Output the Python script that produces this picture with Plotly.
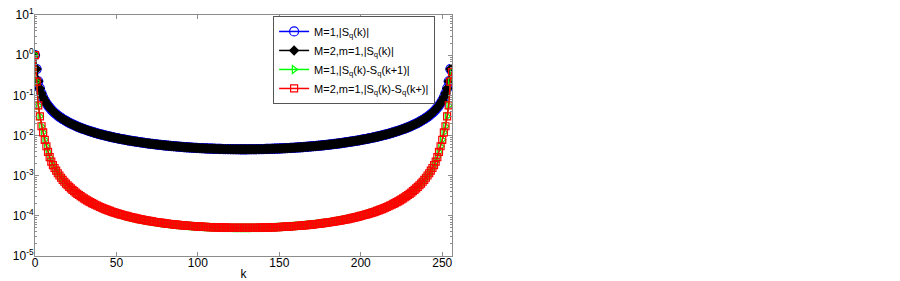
import plotly.graph_objects as go

# k index (0..256)
k_values = list(range(0, 257))

# |S_q(k)| for M=1 (blue)
abs_sq_m1 = [
    1.0, 0.45, 0.224, 0.149, 0.112, 0.0892, 0.0742, 0.0635, 0.0555, 0.0492,
    0.0442, 0.0401, 0.0367, 0.0338, 0.0314, 0.0292, 0.0274, 0.0257, 0.0243, 0.0230,
    0.0218, 0.0207, 0.0197, 0.0189, 0.0181, 0.0173, 0.0166, 0.0160, 0.0154, 0.0149,
    0.0144, 0.0139, 0.0135, 0.0130, 0.0127, 0.0123, 0.0119, 0.0116, 0.0113, 0.0110,
    0.0107, 0.0105, 0.0102, 0.0100, 0.00976, 0.00955, 0.00934, 0.00915, 0.00896, 0.00878,
    0.00861, 0.00845, 0.00829, 0.00814, 0.00800, 0.00786, 0.00772, 0.00760, 0.00747, 0.00735,
    0.00724, 0.00713, 0.00703, 0.00692, 0.00683, 0.00673, 0.00664, 0.00655, 0.00647, 0.00639,
    0.00631, 0.00623, 0.00616, 0.00609, 0.00602, 0.00595, 0.00589, 0.00583, 0.00577, 0.00571,
    0.00566, 0.00560, 0.00555, 0.00550, 0.00545, 0.00541, 0.00536, 0.00532, 0.00527, 0.00523,
    0.00520, 0.00516, 0.00512, 0.00509, 0.00505, 0.00502, 0.00499, 0.00496, 0.00493, 0.00490,
    0.00488, 0.00485, 0.00483, 0.00481, 0.00478, 0.00476, 0.00474, 0.00472, 0.00471, 0.00469,
    0.00467, 0.00466, 0.00464, 0.00463, 0.00462, 0.00461, 0.00459, 0.00458, 0.00458, 0.00457,
    0.00456, 0.00455, 0.00455, 0.00454, 0.00454, 0.00454, 0.00453, 0.00453, 0.00453,
    0.00453, 0.00453, 0.00454, 0.00454, 0.00454, 0.00455, 0.00455, 0.00456, 0.00457, 0.00458,
    0.00458, 0.00459, 0.00461, 0.00462, 0.00463, 0.00464, 0.00466, 0.00467, 0.00469, 0.00471,
    0.00472, 0.00474, 0.00476, 0.00478, 0.00481, 0.00483, 0.00485, 0.00488, 0.00490, 0.00493,
    0.00496, 0.00499, 0.00502, 0.00505, 0.00509, 0.00512, 0.00516, 0.00520, 0.00523, 0.00527,
    0.00532, 0.00536, 0.00541, 0.00545, 0.00550, 0.00555, 0.00560, 0.00566, 0.00571, 0.00577,
    0.00583, 0.00589, 0.00595, 0.00602, 0.00609, 0.00616, 0.00623, 0.00631, 0.00639, 0.00647,
    0.00655, 0.00664, 0.00673, 0.00683, 0.00692, 0.00703, 0.00713, 0.00724, 0.00735, 0.00747,
    0.00760, 0.00772, 0.00786, 0.00800, 0.00814, 0.00829, 0.00845, 0.00861, 0.00878, 0.00896,
    0.00915, 0.00934, 0.00955, 0.00976, 0.0100, 0.0102, 0.0105, 0.0107, 0.0110, 0.0113,
    0.0116, 0.0119, 0.0123, 0.0127, 0.0130, 0.0135, 0.0139, 0.0144, 0.0149, 0.0154,
    0.0160, 0.0166, 0.0173, 0.0181, 0.0189, 0.0197, 0.0207, 0.0218, 0.0230, 0.0243,
    0.0257, 0.0274, 0.0292, 0.0314, 0.0338, 0.0367, 0.0401, 0.0442, 0.0492, 0.0555,
    0.0635, 0.0742, 0.0892, 0.112, 0.149, 0.224, 0.45,
    0.40,
]

# |S_q(k)| for M=2, m=1 (black) -- overlaps the blue series in the picture
abs_sq_m2 = list(abs_sq_m1)

# |S_q(k)-S_q(k+1)| for M=1 (green)
diff_sq_m1 = [
    1.0, 0.22, 0.056, 0.030, 0.017, 0.012, 7.8e-3, 5.4e-3, 3.9e-3, 2.9e-3,
    2.23e-3, 1.84e-3, 1.55e-3, 1.33e-3, 1.15e-3, 1.01e-3, 8.87e-4, 7.89e-4, 7.06e-4, 6.37e-4,
    5.78e-4, 5.27e-4, 4.82e-4, 4.44e-4, 4.10e-4, 3.80e-4, 3.53e-4, 3.30e-4, 3.09e-4, 2.90e-4,
    2.73e-4, 2.57e-4, 2.43e-4, 2.30e-4, 2.19e-4, 2.08e-4, 1.98e-4, 1.89e-4, 1.81e-4, 1.73e-4,
    1.66e-4, 1.59e-4, 1.53e-4, 1.47e-4, 1.42e-4, 1.37e-4, 1.33e-4, 1.28e-4, 1.24e-4, 1.20e-4,
    1.17e-4, 1.13e-4, 1.10e-4, 1.07e-4, 1.05e-4, 1.02e-4, 9.92e-5, 9.69e-5, 9.46e-5, 9.24e-5,
    9.04e-5, 8.85e-5, 8.66e-5, 8.49e-5, 8.32e-5, 8.16e-5, 8.01e-5, 7.87e-5, 7.73e-5, 7.60e-5,
    7.47e-5, 7.35e-5, 7.24e-5, 7.13e-5, 7.03e-5, 6.93e-5, 6.83e-5, 6.74e-5, 6.65e-5, 6.57e-5,
    6.49e-5, 6.41e-5, 6.34e-5, 6.27e-5, 6.20e-5, 6.13e-5, 6.07e-5, 6.01e-5, 5.96e-5, 5.90e-5,
    5.85e-5, 5.80e-5, 5.75e-5, 5.70e-5, 5.66e-5, 5.62e-5, 5.58e-5, 5.54e-5, 5.50e-5, 5.47e-5,
    5.43e-5, 5.40e-5, 5.37e-5, 5.34e-5, 5.31e-5, 5.29e-5, 5.26e-5, 5.24e-5, 5.22e-5, 5.20e-5,
    5.18e-5, 5.16e-5, 5.14e-5, 5.13e-5, 5.11e-5, 5.10e-5, 5.08e-5, 5.07e-5, 5.06e-5, 5.05e-5,
    5.04e-5, 5.03e-5, 5.03e-5, 5.02e-5, 5.02e-5, 5.01e-5, 5.01e-5, 5.01e-5, 5.01e-5,
    5.01e-5, 5.01e-5, 5.01e-5, 5.02e-5, 5.02e-5, 5.03e-5, 5.03e-5, 5.04e-5, 5.05e-5, 5.06e-5,
    5.07e-5, 5.08e-5, 5.10e-5, 5.11e-5, 5.13e-5, 5.14e-5, 5.16e-5, 5.18e-5, 5.20e-5, 5.22e-5,
    5.24e-5, 5.26e-5, 5.29e-5, 5.31e-5, 5.34e-5, 5.37e-5, 5.40e-5, 5.43e-5, 5.47e-5, 5.50e-5,
    5.54e-5, 5.58e-5, 5.62e-5, 5.66e-5, 5.70e-5, 5.75e-5, 5.80e-5, 5.85e-5, 5.90e-5, 5.96e-5,
    6.01e-5, 6.07e-5, 6.13e-5, 6.20e-5, 6.27e-5, 6.34e-5, 6.41e-5, 6.49e-5, 6.57e-5, 6.65e-5,
    6.74e-5, 6.83e-5, 6.93e-5, 7.03e-5, 7.13e-5, 7.24e-5, 7.35e-5, 7.47e-5, 7.60e-5, 7.73e-5,
    7.87e-5, 8.01e-5, 8.16e-5, 8.32e-5, 8.49e-5, 8.66e-5, 8.85e-5, 9.04e-5, 9.24e-5, 9.46e-5,
    9.69e-5, 9.92e-5, 1.02e-4, 1.05e-4, 1.07e-4, 1.10e-4, 1.13e-4, 1.17e-4, 1.20e-4, 1.24e-4,
    1.28e-4, 1.33e-4, 1.37e-4, 1.42e-4, 1.47e-4, 1.53e-4, 1.59e-4, 1.66e-4, 1.73e-4, 1.81e-4,
    1.89e-4, 1.98e-4, 2.08e-4, 2.19e-4, 2.30e-4, 2.43e-4, 2.57e-4, 2.73e-4, 2.90e-4, 3.09e-4,
    3.30e-4, 3.53e-4, 3.80e-4, 4.10e-4, 4.44e-4, 4.82e-4, 5.27e-4, 5.78e-4, 6.37e-4, 7.06e-4,
    7.89e-4, 8.87e-4, 1.01e-3, 1.15e-3, 1.33e-3, 1.55e-3, 1.84e-3, 2.23e-3, 2.9e-3, 3.9e-3,
    5.4e-3, 7.8e-3, 0.012, 0.017, 0.030, 0.056, 0.22,
    0.38,
]

# |S_q(k)-S_q(k+)| for M=2, m=1 (red) -- overlaps the green series in the picture
diff_sq_m2 = list(diff_sq_m1)

series_names = [
    "M=1,|S<sub>q</sub>(k)|",
    "M=2,m=1,|S<sub>q</sub>(k)|",
    "M=1,|S<sub>q</sub>(k)-S<sub>q</sub>(k+1)|",
    "M=2,m=1,|S<sub>q</sub>(k)-S<sub>q</sub>(k+)|",
]

x_tick_vals = [0, 50, 100, 150, 200, 250]
y_tick_vals = [1e-5, 1e-4, 1e-3, 1e-2, 1e-1, 1e0, 1e1]
y_tick_text = ["10<sup>-5</sup>", "10<sup>-4</sup>", "10<sup>-3</sup>", "10<sup>-2</sup>",
               "10<sup>-1</sup>", "10<sup>0</sup>", "10<sup>1</sup>"]

fig = go.Figure()
fig.add_trace(go.Scatter(
    x=k_values, y=abs_sq_m1, name=series_names[0], mode="lines+markers", legendgroup="a",
    line=dict(color="#0000ff", width=1.5),
    marker=dict(symbol="circle-open", size=9, color="#0000ff", line=dict(width=1.2, color="#0000ff")),
))
fig.add_trace(go.Scatter(
    x=k_values, y=abs_sq_m2, name=series_names[1], mode="lines+markers", legendgroup="b",
    line=dict(color="#000000", width=1.5),
    marker=dict(symbol="diamond", size=8, color="#000000", line=dict(width=0)),
))
fig.add_trace(go.Scatter(
    x=k_values, y=diff_sq_m1, name=series_names[2], mode="lines+markers", legendgroup="c",
    line=dict(color="#00ff00", width=1.5),
    marker=dict(symbol="triangle-right-open", size=7, color="#00ff00", line=dict(width=1.2, color="#00ff00")),
))
fig.add_trace(go.Scatter(
    x=k_values, y=diff_sq_m2, name=series_names[3], mode="lines+markers", legendgroup="d",
    line=dict(color="#ff0000", width=1.5),
    marker=dict(symbol="square-open", size=7, color="#ff0000", line=dict(width=1.2, color="#ff0000")),
))

axis_color = "#8c8c8c"
fig.update_layout(
    width=892, height=273,
    margin=dict(l=27, r=448, t=7, b=25, autoexpand=False),
    paper_bgcolor="white", plot_bgcolor="white",
    font=dict(family="Liberation Sans, Arial, sans-serif", size=12, color="black"),
    showlegend=True,
    legend=dict(
        x=0.571, y=0.996, xanchor="left", yanchor="top",
        bgcolor="white", bordercolor="#555555", borderwidth=1,
        font=dict(size=11, color="black"),
        itemwidth=30, tracegroupgap=0, traceorder="grouped",
    ),
    xaxis=dict(
        range=[0, 256], tickvals=x_tick_vals, ticks="inside", ticklen=4,
        tickcolor=axis_color, showline=True, linecolor=axis_color, linewidth=1,
        mirror="ticks", showgrid=False, zeroline=False, automargin=False,
        ticklabelstandoff=-4,
        title=dict(text="k", standoff=0, font=dict(size=12)),
        tickfont=dict(size=12),
    ),
    yaxis=dict(
        type="log", range=[-5, 1], tickvals=y_tick_vals, ticktext=y_tick_text,
        ticks="inside", ticklen=4, tickcolor=axis_color, automargin=False,
        ticklabelstandoff=-2, ticklabeloverflow="allow",
        showline=True, linecolor=axis_color, linewidth=1, mirror="ticks",
        showgrid=False, zeroline=False, tickfont=dict(size=12),
        minor=dict(ticks="inside", ticklen=2, tickcolor=axis_color, dtick="D1", showgrid=False),
    ),
)

fig.write_html("out.html")
